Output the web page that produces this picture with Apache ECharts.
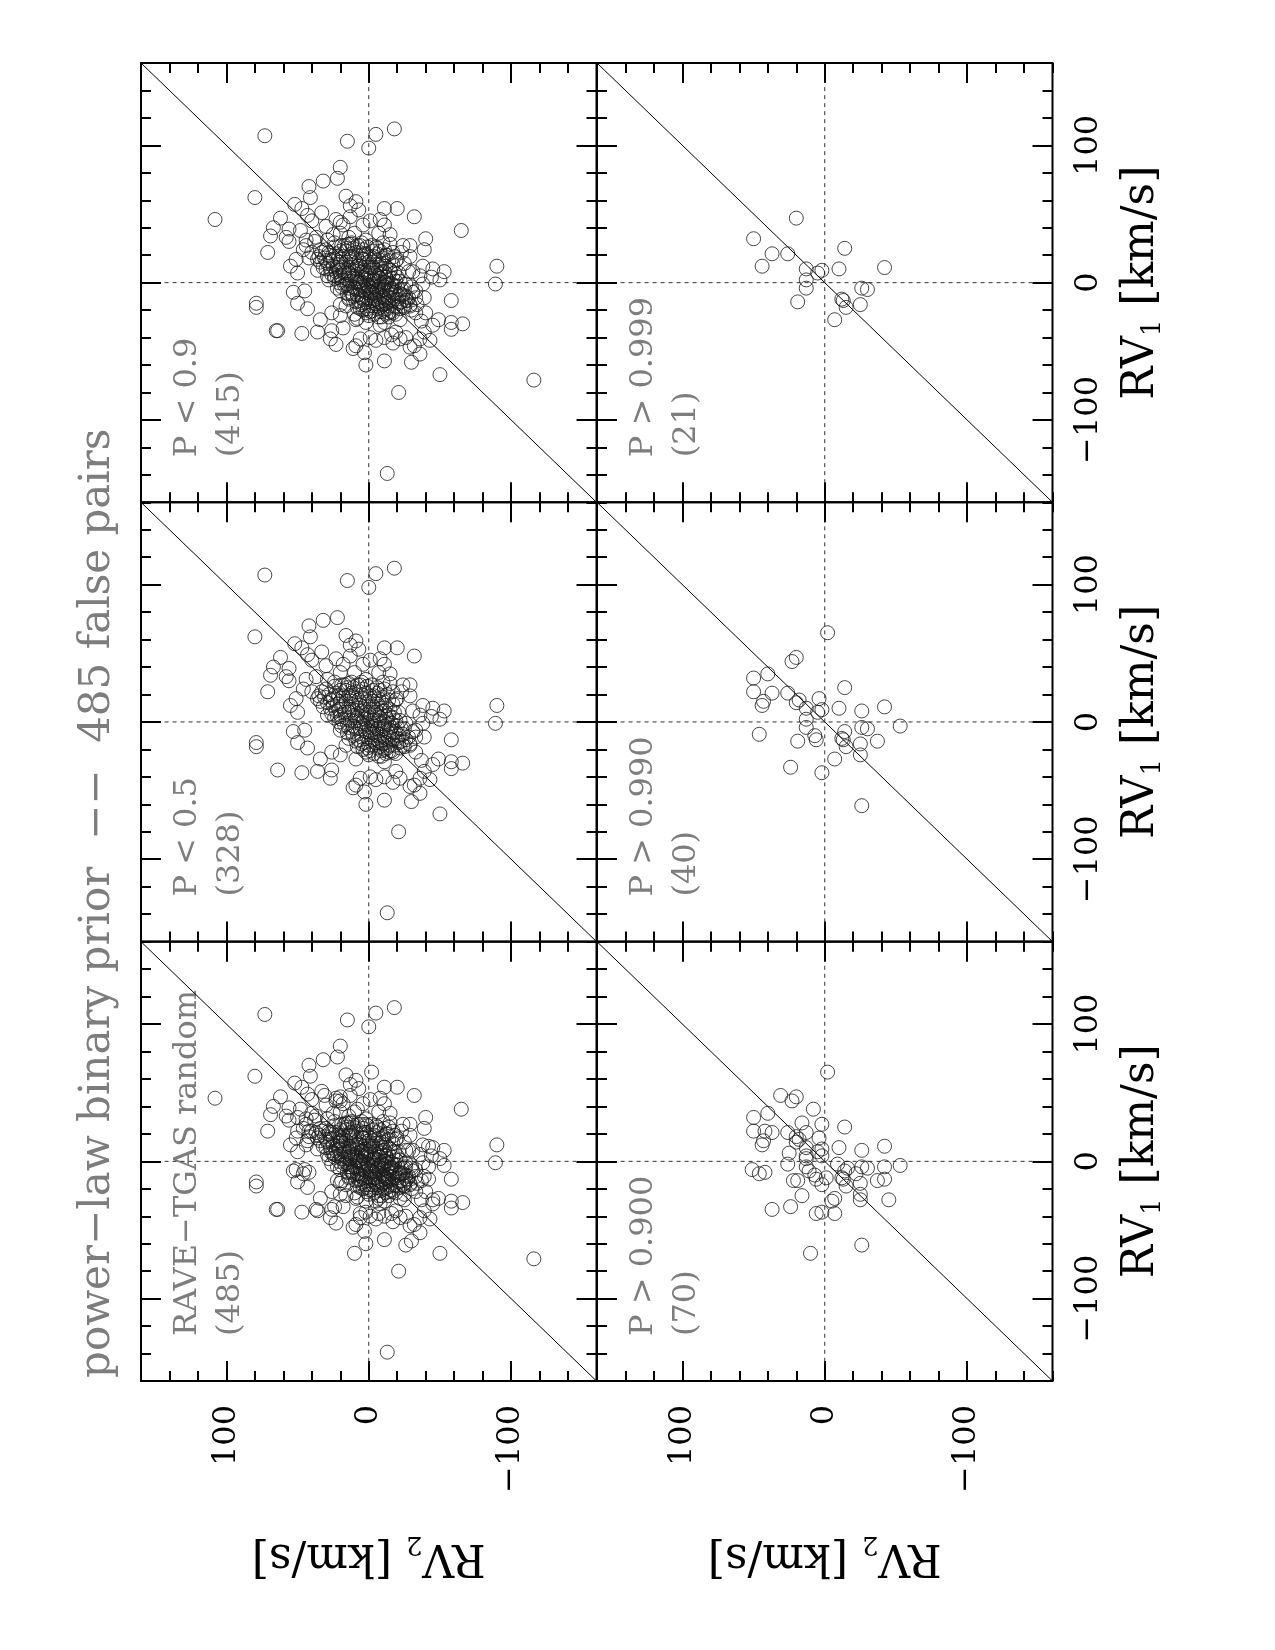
<!DOCTYPE html>
<html>
<head>
<meta charset="utf-8">
<title>RV1 vs RV2 - power-law binary prior</title>
<script src="https://cdn.jsdelivr.net/npm/echarts@6/dist/echarts.min.js"></script>
<style>
  html, body { margin: 0; padding: 0; background: #fff; }
  #chart { width: 1275px; height: 1650px; }
</style>
</head>
<body>
<div id="chart"></div>
<script>
// every pair is [RV1, RV2] in km/s

// P > 0.999 (21)
const p999 = [
  [47,20],[32,50],[21,37],[21,26],[12,44],[10,13],[9,2],[7,5],[25,-14],[10,-10],
  [11,-42],[2,13],[-4,13],[-14,19],[-12,-12],[-13,-13],[-18,-15],[-16,-25],[-4,-26],[-5,-30],
  [-27,-7]
]

// 0.990 < P <= 0.999 (19)
const p990 = [
  [65,-2],[44,23],[35,40],[22,50],[15,43],[14,20],[16,18],[17,4],[8,-26],[-9,46],
  [-10,7],[-13,6],[-7,-14],[-14,-37],[-3,-53],[-24,-25],[-33,24],[-37,2],[-61,-26]
]

// 0.900 < P <= 0.990 (30)
const p900 = [
  [48,31],[38,8],[28,16],[27,2],[22,42],[6,25],[-2,26],[-6,51],[-8,42],[-14,22],
  [-17,2],[-25,16],[-35,37],[-38,6],[-29,-5],[-38,-7],[-67,10],[-4,-42],[-13,-42],[-28,-45],
  [-28,-25],[-9,-22],[21,13],[-12,-1],[-5,-16],[4,13],[4,2],[18,20],[-2,-9],[-7,11]
]

// 0.5 <= P <= 0.9 (87)
const pMid = [
  [46,108],[38,-65],[-71,-116],[-35,65],[-45,23],[84,20],[32,-40],[24,-39],
  [35,25],[30,38],[26,-5],[22,28],[20,-12],[18,42],[15,20],[14,-25],[12,8],[11,-2],
  [10,30],[9,-15],[8,18],[7,-8],[6,2],[5,24],[4,-20],[3,12],[2,-4],[1,6],
  [0,-12],[-1,16],[-2,0],[-3,-7],[-4,10],[-5,-16],[-6,4],[-7,-2],[-8,-22],[-9,8],
  [-10,-10],[-11,14],[-12,-4],[-13,-27],[-14,2],[-15,-12],[-16,20],[-17,-6],[-18,-19],[-19,6],
  [-20,-30],[-21,-2],[-23,10],[-25,-14],[-27,-22],[-29,2],[-31,-8],[-33,18],[-38,-16],[-40,-26],
  [28,12],[24,34],[21,4],[19,-18],[16,30],[13,-8],[11,22],[8,-28],[6,14],[4,-12],
  [2,28],[0,8],[-2,-18],[-4,22],[-6,-6],[-8,12],[-10,-26],[-12,4],[-14,-14],[-16,-34],
  [33,14],[27,44],[17,4],[9,36],[-3,-30],[-22,-40],[-26,8],[38,48],[44,20]
]

// P < 0.5 (328): outliers, outer ring, then the dense core
const pLow = [
  [107,73],[103,15],[98,0],[108,-5],[112,-18],[12,-90],[-1,-89],[-139,-13],
  [62,80],[70,42],[74,32],[76,22],[62,41],[57,52],[63,16],[59,9],[53,7],[56,13],
  [54,-11],[54,-20],[48,-32],[40,67],[47,62],[39,56],[33,58],[30,56],[34,69],[22,71],
  [54,47],[49,43],[45,40],[51,33],[41,30],[46,23],[42,18],[36,20],[48,13],[36,10],
  [42,4],[45,-1],[46,-8],[42,-11],[35,-15],[28,-15],[36,-7],[29,-10],[31,2],[27,6],
  [29,12],[27,17],[29,24],[31,29],[33,37],[31,44],[24,46],[17,51],[12,55],[7,50],
  [22,40],[17,36],[27,-24],[27,-29],[19,-29],[22,-23],[16,-19],[12,-38],[10,-45],[8,-53],
  [2,-50],[4,-44],[5,-36],[8,-31],[-1,-38],[-6,-33],[-11,-39],[-13,-58],[-30,-66],[-34,-58],
  [-29,-58],[-27,-49],[-31,-45],[-36,-39],[-42,-43],[-41,-36],[-46,-32],[-47,-29],[-41,-22],[-44,-17],
  [-36,-19],[-40,-11],[-42,-5],[-40,-1],[-41,6],[-46,9],[-48,11],[-51,3],[-57,-11],[-60,2],
  [-80,-21],[-58,-30],[-52,-36],[-67,-50],[-18,79],[-15,79],[-15,50],[-19,43],[-6,45],[-7,53],
  [-35,64],[-37,47],[-36,36],[-35,26],[-41,27],[-27,34],[-22,26],[-24,20],[-17,16],[-27,9],
  [-25,-9],[-29,-11],[-22,-17],[-17,-24],[-17,-29],[-22,-33],[-28,-37],
  [28,14],[29,5],[27,-2],
  [26,24],[25,15],[27,8],[26,1],[25,-6],[27,19],
  [24,30],[23,20],[25,11],[24,4],[23,-3],[24,-11],
  [22,33],[21,23],[23,16],[22,9],[21,2],[23,-8],[22,-17],
  [20,28],[19,21],[21,12],[20,5],[19,-1],[21,-6],[20,-13],[19,35],
  [18,31],[17,25],[19,18],[18,10],[17,3],[19,-4],[18,-10],[17,-20],[19,14],
  [16,27],[15,20],[17,13],[16,7],[15,0],[17,-7],[16,-14],[15,34],
  [14,29],[13,22],[15,16],[14,9],[13,2],[15,-3],[14,-9],[13,-17],
  [12,25],[11,19],[13,12],[12,6],[11,-1],[13,-6],[12,-12],[11,32],
  [10,27],[9,21],[11,14],[10,8],[9,3],[11,-3],[10,-9],[9,-15],
  [8,23],[7,17],[9,11],[8,5],[7,0],[9,-5],[8,-11],[7,-18],
  [6,26],[5,20],[7,14],[6,8],[5,2],[7,-4],[6,-8],[5,-14],[7,-21],
  [4,22],[3,16],[5,10],[4,5],[3,-1],[5,-6],[4,-12],[3,-17],[5,29],
  [2,19],[1,13],[3,8],[2,3],[1,-3],[3,-8],[2,-13],[1,-19],[3,24],
  [0,21],[-1,15],[1,9],[0,4],[-1,-2],[1,-7],[0,-11],[-1,-16],[1,-22],
  [-2,17],[-3,11],[-1,6],[-2,1],[-3,-4],[-1,-9],[-2,-14],[-3,-20],[-1,-26],
  [-4,14],[-5,9],[-3,3],[-4,-2],[-5,-6],[-3,-11],[-4,-16],[-5,-23],[-3,19],
  [-6,20],[-7,12],[-5,6],[-6,0],[-7,-5],[-5,-10],[-6,-15],[-7,-19],[-5,-25],
  [-8,15],[-9,8],[-7,2],[-8,-3],[-9,-8],[-7,-13],[-8,-18],[-9,-24],[-7,-31],
  [-10,11],[-11,5],[-9,-1],[-10,-6],[-11,-11],[-9,-16],[-10,-21],[-11,-28],
  [-12,14],[-13,7],[-11,1],[-12,-4],[-13,-9],[-11,-14],[-12,-20],[-13,-26],[-11,-33],
  [-14,9],[-15,3],[-13,-2],[-14,-7],[-15,-12],[-13,-17],[-14,-23],
  [-16,5],[-17,0],[-15,-5],[-16,-10],[-17,-15],[-15,-21],[-16,-29],
  [-18,8],[-19,1],[-17,-3],[-18,-8],[-19,-13],[-17,-18],[-18,-25],
  [-20,4],[-21,-1],[-19,-6],[-20,-11],[-21,-16],[-19,-22],
  [-22,2],[-23,-4],[-21,-9],[-22,-14],[-23,-19],
  [-24,0],[-25,-7],[-23,-12]
]

// panels in reading order: top row left/right, middle, bottom
const panelTitles = ['P < 0.9', 'P > 0.999', 'P < 0.5', 'P > 0.990', 'RAVE\u2212TGAS random', 'P > 0.900']
const panelCounts = [415, 21, 328, 40, 485, 70]
const panelData = [
  pLow.concat(pMid),
  p999,
  pLow,
  p999.concat(p990),
  pLow.concat(pMid, p900, p990, p999),
  p999.concat(p990, p900)
]

const axisRange = [-160, 160]
const tickValues = [-100, 0, 100]
const minorStep = 20
const diagonalEnds = [-160, 160]
const zeroLineSpan = [-146, 146]
const figureTitle = 'power\u2212law binary prior  \u2212\u2212  485 false pairs'

// layout (pixels)
const colLeft = [141, 597]
const colWidth = 455.5
const rowTop = [63, 502.3, 941.7]
const rowHeight = 439.3

const FONT = '"DejaVu Serif", "Liberation Serif", serif'
const INK = '#000'
const GREY = '#7d7d7d'

const fmtTick = v => (v < 0 ? '\u2212' + Math.abs(v) : String(v))
const subRich = {
  s: { fontFamily: FONT, fontSize: 26, color: INK, verticalAlign: 'bottom', lineHeight: 26 }
}

const grid = []
const xAxis = []
const yAxis = []
const series = []
const graphic = []

panelData.forEach((pts, g) => {
  const row = Math.floor(g / 2)
  const col = g % 2
  const left = colLeft[col]
  const top = rowTop[row]
  grid.push({
    left, top, width: colWidth, height: rowHeight,
    show: true, borderColor: INK, borderWidth: 2, backgroundColor: 'transparent',
    outerBoundsMode: 'none'
  })

  const xIndex = xAxis.length
  const yIndex = yAxis.length
  const tickStyle = { color: INK, width: 2 }

  // RV2 runs horizontally, decreasing to the right
  const xBase = {
    gridIndex: g, type: 'value', min: axisRange[0], max: axisRange[1], inverse: true,
    axisLine: { show: false, onZero: false }, splitLine: { show: false },
    axisLabel: { show: false }, nameMoveOverlap: false
  }
  ;['bottom', 'top'].forEach(pos => {
    xAxis.push({ ...xBase, position: pos, interval: minorStep,
      axisTick: { inside: true, length: 10, lineStyle: tickStyle } })
    const major = { ...xBase, position: pos,
      axisTick: { inside: true, length: 20, customValues: tickValues, lineStyle: tickStyle } }
    if (pos === 'bottom' && row === 2) {
      major.axisLabel = {
        show: true, customValues: tickValues, rotate: 90, margin: 24,
        fontFamily: FONT, fontSize: 32, color: INK, formatter: fmtTick
      }
      major.name = 'RV{s|2} [km/s]'
      major.nameLocation = 'middle'
      major.nameRotate = 180
      major.nameGap = 150
      major.nameTextStyle = { fontFamily: FONT, fontSize: 44, color: INK, lineHeight: 50, rich: subRich }
    }
    xAxis.push(major)
  })

  // RV1 runs vertically, increasing upwards
  const yBase = {
    gridIndex: g, type: 'value', min: axisRange[0], max: axisRange[1],
    axisLine: { show: false, onZero: false }, splitLine: { show: false },
    axisLabel: { show: false }, nameMoveOverlap: false
  }
  ;['left', 'right'].forEach(pos => {
    yAxis.push({ ...yBase, position: pos, interval: minorStep,
      axisTick: { inside: true, length: 10, lineStyle: tickStyle } })
    const major = { ...yBase, position: pos,
      axisTick: { inside: true, length: 20, customValues: tickValues, lineStyle: tickStyle } }
    if (pos === 'right' && col === 1) {
      major.axisLabel = {
        show: true, customValues: tickValues, rotate: 90, margin: 20,
        fontFamily: FONT, fontSize: 32, color: INK, formatter: fmtTick
      }
      major.name = 'RV{s|1} [km/s]'
      major.nameLocation = 'middle'
      major.nameRotate = 90
      major.nameGap = 64
      major.nameTextStyle = { fontFamily: FONT, fontSize: 44, color: INK, lineHeight: 50, rich: subRich }
    }
    yAxis.push(major)
  })

  const onAxes = { xAxisIndex: xIndex, yAxisIndex: yIndex, silent: true, animation: false }
  series.push({ ...onAxes, type: 'line', symbol: 'none', z: 1,
    data: diagonalEnds.map(v => [v, v]),
    lineStyle: { color: INK, width: 1 } })
  series.push({ ...onAxes, type: 'line', symbol: 'none', z: 1,
    data: zeroLineSpan.map(v => [0, v]),
    lineStyle: { color: '#333', width: 1, type: [4, 4] } })
  series.push({ ...onAxes, type: 'line', symbol: 'none', z: 1,
    data: zeroLineSpan.map(v => [v, 0]),
    lineStyle: { color: '#333', width: 1, type: [4, 4] } })
  series.push({ ...onAxes, type: 'scatter', z: 3,
    data: pts.map(d => [d[1], d[0]]),
    symbol: 'circle', symbolSize: 14,
    itemStyle: { color: 'rgba(0,0,0,0)', borderColor: '#1a1a1a', borderWidth: 1 } })

  // panel caption, written along the RV1 direction
  const base = top + rowHeight - 45
  graphic.push({ type: 'text', x: left + 47, y: base, rotation: Math.PI / 2, silent: true,
    style: { text: panelTitles[g], fill: GREY, font: '32px ' + FONT, textAlign: 'left', textVerticalAlign: 'middle' } })
  graphic.push({ type: 'text', x: left + 90, y: base, rotation: Math.PI / 2, silent: true,
    style: { text: '(' + panelCounts[g] + ')', fill: GREY, font: '32px ' + FONT, textAlign: 'left', textVerticalAlign: 'middle' } })
})

graphic.push({ type: 'text', x: 98, y: 1378, rotation: Math.PI / 2, silent: true,
  style: { text: figureTitle, fill: GREY, font: '42px ' + FONT, textAlign: 'left', textVerticalAlign: 'middle' } })

const chart = echarts.init(document.getElementById('chart'))
chart.setOption({
  backgroundColor: '#fff',
  animation: false,
  grid,
  xAxis,
  yAxis,
  series,
  graphic
})
</script>
</body>
</html>
